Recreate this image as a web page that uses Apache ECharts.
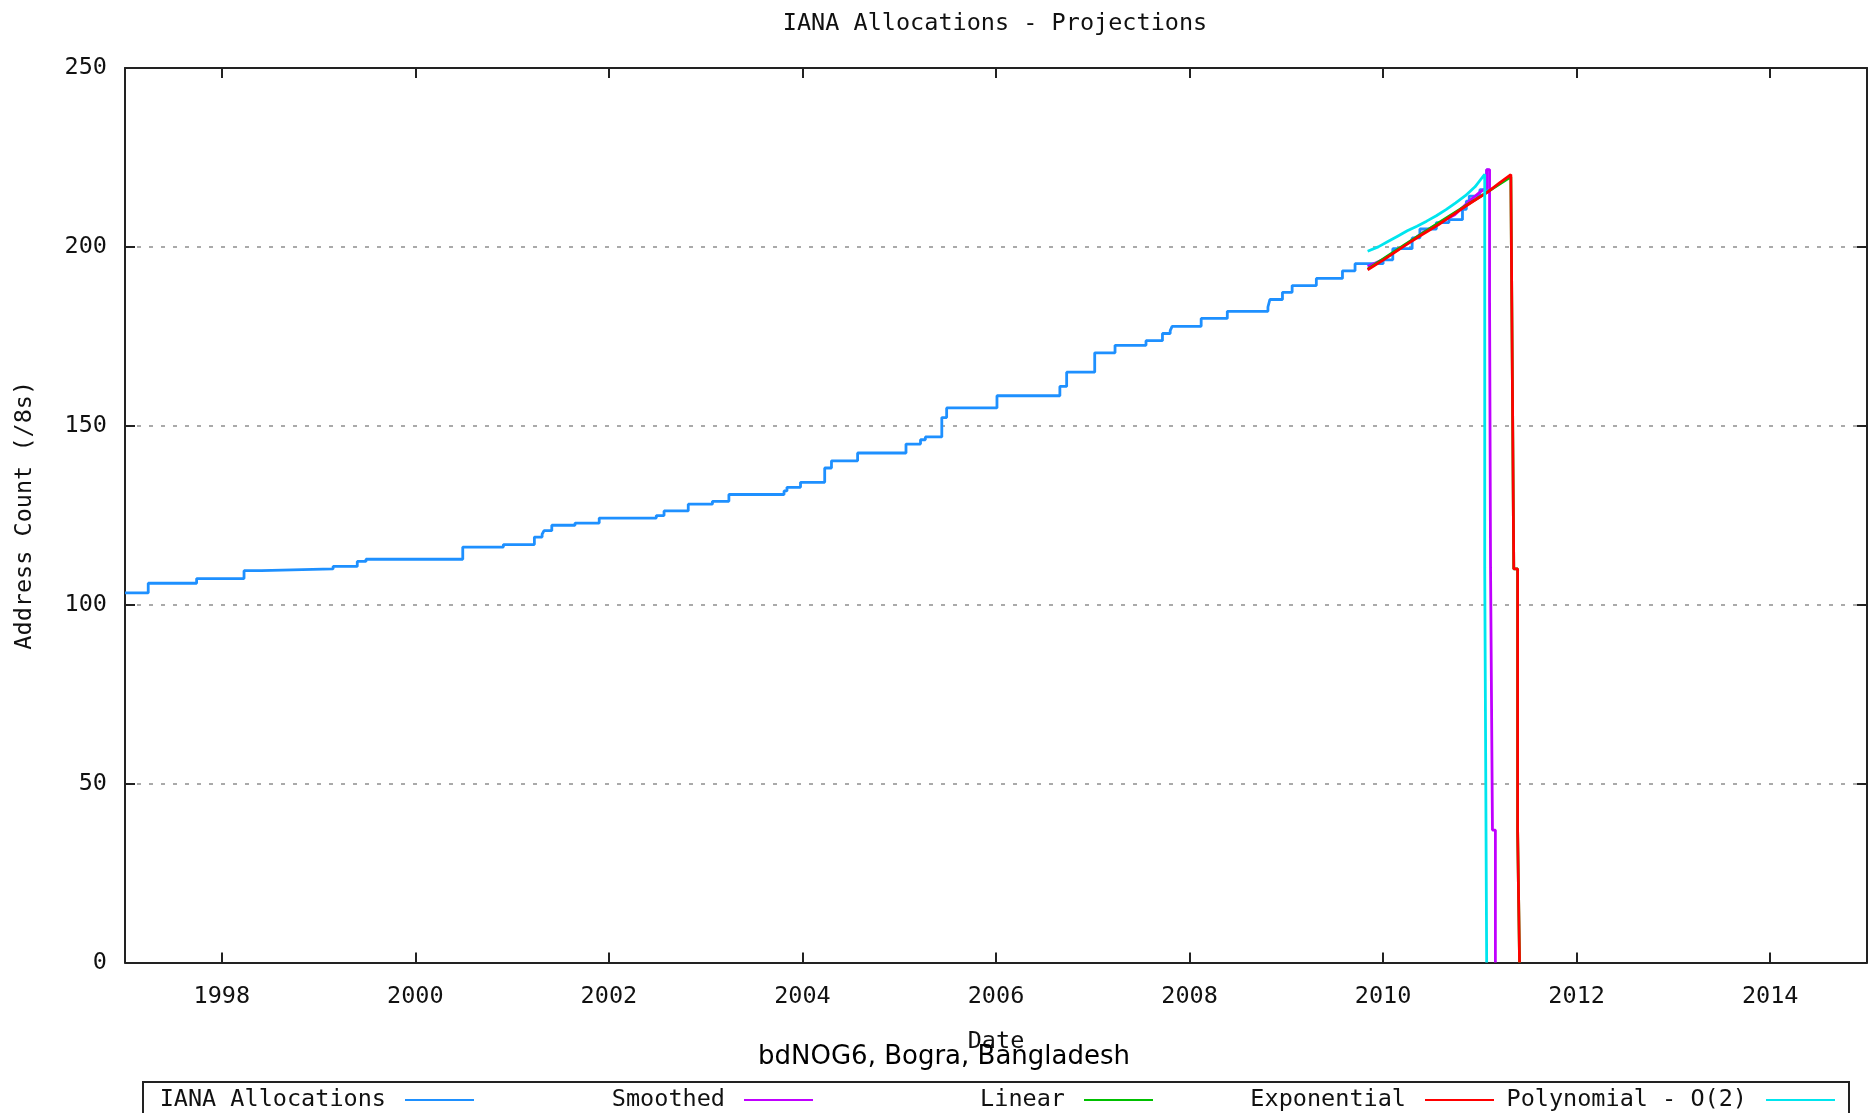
<!DOCTYPE html>
<html><head><meta charset="utf-8">
<script src="https://cdn.jsdelivr.net/npm/echarts@6/dist/echarts.min.js"></script>
<style>html,body{margin:0;padding:0;background:#fff}#c{width:1872px;height:1113px}</style>
</head><body><div id="c"></div>
<script>
// ---- data (decimal years, /8 counts) ----
const yearTicks = [1998, 2000, 2002, 2004, 2006, 2008, 2010, 2012, 2014];
const countTicks = [0, 50, 100, 150, 200, 250];

const ianaDates = [1997.00, 1997.24, 1997.74, 1998.23, 1998.41, 1999.15, 1999.40, 1999.49, 2000.49, 2000.91,
  2001.23, 2001.31, 2001.33, 2001.41, 2001.65, 2001.90, 2002.49, 2002.57, 2002.82, 2003.07,
  2003.24, 2003.81, 2003.84, 2003.98, 2004.23, 2004.30, 2004.57, 2005.07, 2005.22, 2005.27,
  2005.44, 2005.49, 2006.01, 2006.66, 2006.73, 2007.02, 2007.23, 2007.55, 2007.72, 2007.80,
  2007.82, 2008.12, 2008.39, 2008.81, 2008.83, 2008.96, 2009.06, 2009.31, 2009.58, 2009.71,
  2010.00, 2010.10, 2010.30, 2010.38, 2010.55, 2010.68, 2010.82, 2010.86, 2010.89, 2011.00,
  2011.07, 2011.09];
const ianaCounts = [103.3, 106, 107.3, 109.5, 110, 110.7, 112.1, 112.7, 116.1, 116.8,
  118.9, 119.7, 120.7, 122.2, 122.8, 124.2, 124.9, 126.2, 128.1, 128.9,
  130.8, 131.8, 132.8, 134.2, 138.2, 140.2, 142.4, 144.9, 146.1, 146.9,
  152.3, 155.0, 158.4, 161.0, 165.0, 170.4, 172.5, 173.8, 175.8, 176.6,
  177.8, 180.0, 182.0, 183.2, 185.3, 187.3, 189.2, 191.2, 193.3, 195.3,
  196.4, 199.5, 202.5, 205.0, 206.8, 207.6, 210.5, 212.8, 214.2, 216.0,
  221.5, 221.5];

const smoothDates = [2009.84, 2010.00, 2010.20, 2010.40, 2010.60, 2010.74, 2010.90, 2011.01, 2011.07, 2011.07,
  2011.10, 2011.10, 2011.11, 2011.11, 2011.13, 2011.13, 2011.16, 2011.16];
const smoothCounts = [194.5, 196.5, 200.0, 203.8, 207.0, 209.0, 213.0, 215.5, 216.5, 221.6,
  221.6, 185.0, 185.0, 110.5, 110.5, 37.0, 37.0, 0];

const linearDates = [2009.84, 2010.20, 2010.60, 2011.00, 2011.32, 2011.33, 2011.33, 2011.35, 2011.35,
  2011.39, 2011.39, 2011.41, 2011.41];
const linearCounts = [193.8, 200.2, 207.2, 214.0, 219.6, 219.6, 183.4, 183.4, 110.0,
  110.0, 36.5, 36.5, 0];

const expDates = [2009.84, 2010.00, 2010.22, 2010.40, 2010.57, 2010.75, 2010.91, 2011.08, 2011.20, 2011.32,
  2011.33, 2011.33, 2011.35, 2011.35, 2011.39, 2011.39, 2011.41, 2011.41];
const expCounts = [193.6, 196.3, 200.3, 203.4, 206.2, 209.5, 212.4, 215.3, 217.8, 220.2,
  220.2, 183.4, 183.4, 110.0, 110.0, 36.5, 36.5, 0];

const polyDates = [2009.84, 2009.95, 2010.05, 2010.15, 2010.25, 2010.35, 2010.45, 2010.55, 2010.65, 2010.75,
  2010.85, 2010.95, 2011.05, 2011.05, 2011.07, 2011.07];
const polyCounts = [198.8, 200.0, 201.5, 203.0, 204.5, 205.8, 207.2, 208.7, 210.4, 212.3,
  214.3, 216.8, 220.3, 110.5, 110.5, 0];

const seriesNames = ['IANA Allocations', 'Smoothed', 'Linear', 'Exponential', 'Polynomial - O(2)'];
const seriesColors = ['#1e90ff', '#c000ff', '#00c000', '#ff0000', '#00e5ee'];

// ---- chart ----
const MONO = '"DejaVu Sans Mono", "Liberation Mono", monospace';
const FS = 23.5;
const INK = '#111';
const FRAME = '#222';

function zip(xs, ys) { return xs.map((x, i) => [x, ys[i]]); }

const chart = echarts.init(document.getElementById('c'));

const tickStyle = { show: true, inside: true, length: 10, lineStyle: { color: FRAME, width: 2 } };
const frameLine = { show: true, onZero: false, lineStyle: { color: FRAME, width: 2 } };
const legendRights = [1398, 1059, 719, 378, 37];

const option = {
  animation: false,
  backgroundColor: '#fff',
  title: [
    { text: 'IANA Allocations - Projections', left: 995, textAlign: 'center', top: 11.5, padding: 0,
      textStyle: { fontFamily: MONO, fontSize: FS, fontWeight: 'normal', color: INK } },
    { text: 'bdNOG6, Bogra, Bangladesh', left: 944, textAlign: 'center', top: 1044, padding: 0,
      textStyle: { fontFamily: '"DejaVu Sans", "Liberation Sans", sans-serif', fontSize: 26, fontWeight: 'normal', color: '#000' } }
  ],
  grid: { left: 125, right: 5, top: 68, bottom: 150.5, show: false },
  xAxis: [
    { type: 'value', min: 1997, max: 2015, position: 'bottom',
      axisLine: frameLine,
      axisTick: Object.assign({ customValues: yearTicks }, tickStyle),
      axisLabel: { customValues: yearTicks, formatter: v => String(v), fontFamily: MONO, fontSize: FS, color: INK, margin: 22.5 },
      splitLine: { show: false },
      name: 'Date', nameLocation: 'middle', nameGap: 67.5,
      nameTextStyle: { fontFamily: MONO, fontSize: FS, color: INK } },
    { type: 'value', min: 1997, max: 2015, position: 'top',
      axisLine: frameLine,
      axisTick: Object.assign({ customValues: yearTicks }, tickStyle),
      axisLabel: { show: false }, splitLine: { show: false } }
  ],
  yAxis: [
    { type: 'value', min: 0, max: 250, interval: 50, position: 'left',
      axisLine: frameLine,
      axisTick: tickStyle,
      axisLabel: { fontFamily: MONO, fontSize: FS, color: INK, margin: 18 },
      splitLine: { show: true, showMinLine: false, showMaxLine: false, lineStyle: { color: '#aaaaaa', width: 2, type: [4, 8] } },
      name: 'Address Count (/8s)', nameLocation: 'middle', nameGap: 88, nameRotate: 90,
      nameTextStyle: { fontFamily: MONO, fontSize: FS, color: INK } },
    { type: 'value', min: 0, max: 250, interval: 50, position: 'right',
      axisLine: frameLine, axisTick: tickStyle,
      axisLabel: { show: false }, splitLine: { show: false } }
  ],
  legend: seriesNames.map((n, i) => ({
    data: [{ name: n, icon: 'rect' }], right: legendRights[i], top: 1088, align: 'right', padding: 0,
    itemWidth: 69, itemHeight: 2, selectedMode: false,
    textStyle: { fontFamily: MONO, fontSize: FS, color: INK, padding: [0, 14, 0, 0] }
  })),
  graphic: [
    { type: 'rect', shape: { x: 143, y: 1082, width: 1706, height: 80 }, silent: true,
      style: { fill: 'none', stroke: FRAME, lineWidth: 2 } }
  ],
  series: [
    { name: seriesNames[0], type: 'line', step: 'end', data: zip(ianaDates, ianaCounts) },
    { name: seriesNames[1], type: 'line', data: zip(smoothDates, smoothCounts) },
    { name: seriesNames[2], type: 'line', data: zip(linearDates, linearCounts) },
    { name: seriesNames[3], type: 'line', data: zip(expDates, expCounts) },
    { name: seriesNames[4], type: 'line', data: zip(polyDates, polyCounts) }
  ].map((s, i) => Object.assign(s, {
    symbol: 'none', showSymbol: false, clip: true, z: 2 + i,
    color: seriesColors[i],
    itemStyle: { color: seriesColors[i] },
    lineStyle: { color: seriesColors[i], width: 2.8 },
    emphasis: { disabled: true }
  }))
};
chart.setOption(option);
</script>
</body></html>
